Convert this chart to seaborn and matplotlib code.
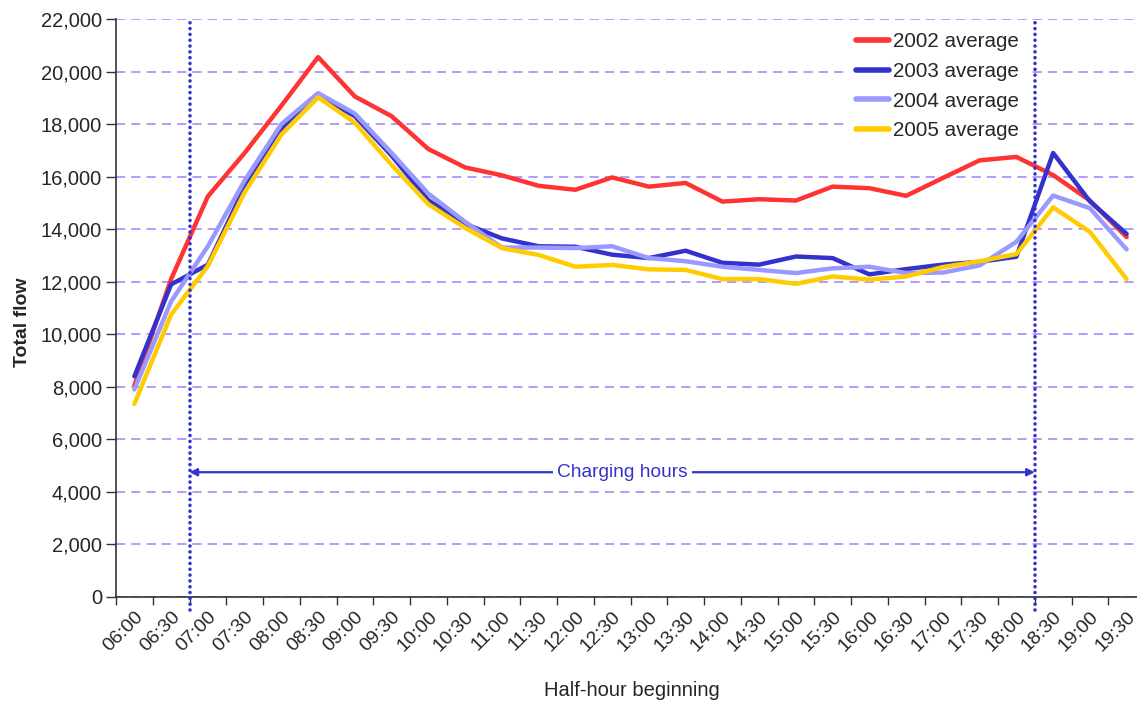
import numpy as np
import pandas as pd
import matplotlib
matplotlib.use("Agg")
import matplotlib.pyplot as plt
import seaborn as sns
from matplotlib.ticker import FuncFormatter, FixedLocator

# half-hour slots
times = ["06:00", "06:30", "07:00", "07:30", "08:00", "08:30", "09:00",
         "09:30", "10:00", "10:30", "11:00", "11:30", "12:00", "12:30",
         "13:00", "13:30", "14:00", "14:30", "15:00", "15:30", "16:00",
         "16:30", "17:00", "17:30", "18:00", "18:30", "19:00", "19:30"]

flow_2002 = [8050, 12100, 15250, 16900, 18700, 20550, 19050, 18300, 17050, 16350,
             16050, 15650, 15500, 15970, 15620, 15760, 15050, 15140, 15090, 15620,
             15560, 15270, 15950, 16620, 16750, 16060, 15090, 13700]
flow_2003 = [8400, 11900, 12650, 15600, 17800, 19100, 18300, 16800, 15100, 14200,
             13650, 13350, 13330, 13030, 12900, 13180, 12720, 12650, 12960, 12900,
             12280, 12480, 12650, 12760, 12950, 16900, 15060, 13820]
flow_2004 = [7900, 11250, 13350, 15850, 18000, 19180, 18400, 16900, 15350, 14280,
             13300, 13300, 13280, 13350, 12900, 12780, 12570, 12450, 12330, 12510,
             12570, 12330, 12350, 12620, 13520, 15280, 14800, 13230]
flow_2005 = [7350, 10750, 12600, 15400, 17600, 19020, 18050, 16450, 14950, 14050,
             13280, 13020, 12570, 12640, 12470, 12450, 12100, 12100, 11920, 12200,
             12080, 12200, 12560, 12780, 13050, 14830, 13900, 12100]

series_names = ["2002 average", "2003 average", "2004 average", "2005 average"]
series_colors = ["#FF3333", "#3333CC", "#9999FF", "#FFCC00"]

charge_start = "07:00"
charge_end = "18:30"
arrow_level = 4750
y_ticks = list(range(0, 22001, 2000))

rows = []
for name, vals in zip(series_names, [flow_2002, flow_2003, flow_2004, flow_2005]):
    for i, (t, v) in enumerate(zip(times, vals)):
        rows.append({"slot": i, "time": t, "flow": v, "series": name})
df = pd.DataFrame(rows)

sns.set_theme(style="white")
plt.rcParams["font.family"] = ["Liberation Sans", "DejaVu Sans"]

fig = plt.figure(figsize=(11.37, 7.02), dpi=100)
ax = fig.add_axes([116 / 1137, 105 / 702, 1029 / 1137, 578 / 702])

sns.lineplot(data=df, x="slot", y="flow", hue="series", palette=series_colors,
             hue_order=series_names, linewidth=3.2, ax=ax, zorder=3)

n = len(times)
ax.set_xlim(-0.5, n - 0.5)
ax.set_ylim(0, 22000)

# y axis
ax.yaxis.set_major_locator(FixedLocator(y_ticks))
ax.yaxis.set_major_formatter(FuncFormatter(lambda v, p: f"{int(v):,}"))
ax.grid(axis="y", color="#9f7fff", linestyle=(0, (6, 4)), linewidth=1.1, zorder=0)
ax.tick_params(axis="y", direction="out", length=7, width=1, color="#333333",
               labelsize=14.5, left=True, pad=3)

# x axis: labels centred, ticks on the boundaries
ax.set_xticks(np.arange(n))
ax.set_xticklabels(times, rotation=45, ha="right", rotation_mode="anchor")
ax.set_xticks(np.arange(n + 1) - 0.5, minor=True)
ax.tick_params(axis="x", which="major", length=0, labelsize=14, pad=8)
ax.tick_params(axis="x", which="minor", direction="out", length=6, width=1,
               color="#333333", bottom=True)

for s in ["top", "right"]:
    ax.spines[s].set_visible(False)
for s in ["left", "bottom"]:
    ax.spines[s].set_color("#333333")
    ax.spines[s].set_linewidth(1.2)

ax.set_xlabel("Half-hour beginning", fontsize=14.5)
ax.set_ylabel("Total flow", fontsize=14, fontweight="bold")
ax.xaxis.set_label_coords(516 / 1029, -0.145)
ax.yaxis.set_label_coords(-0.083, 0.476)

# charging hours markers
x0 = times.index(charge_start) - 0.5
x1 = times.index(charge_end) - 0.5
for xv in [x0, x1]:
    ax.plot([xv, xv], [-500, 22000], color="#3333CC", linestyle=(0, (0.01, 1.6)),
            linewidth=2.6, dash_capstyle="round", clip_on=False, zorder=6)
ax.annotate("", xy=(x0, arrow_level), xytext=(x1, arrow_level),
            arrowprops=dict(arrowstyle="<|-|>", color="#3333CC", lw=1.6,
                            mutation_scale=11, shrinkA=0, shrinkB=0), zorder=4)
ax.text((x0 + x1) / 2 + 0.27, arrow_level, "Charging hours", color="#3333CC",
        fontsize=13.8, ha="center", va="center", zorder=5,
        bbox=dict(facecolor="white", edgecolor="none", pad=3))

leg = ax.legend(loc="upper left", bbox_to_anchor=(848 / 1137, 1 - 24 / 702),
                bbox_transform=fig.transFigure, frameon=True, fontsize=14.8,
                handlelength=1.6, handletextpad=0.2, labelspacing=0.52,
                borderaxespad=0, borderpad=0.4, fancybox=False)
leg.get_frame().set_facecolor("white")
leg.get_frame().set_edgecolor("none")
leg.get_frame().set_alpha(1)
leg.set_zorder(5)
for line in leg.get_lines():
    line.set_linewidth(4)

fig.savefig("out.png", dpi=100)
